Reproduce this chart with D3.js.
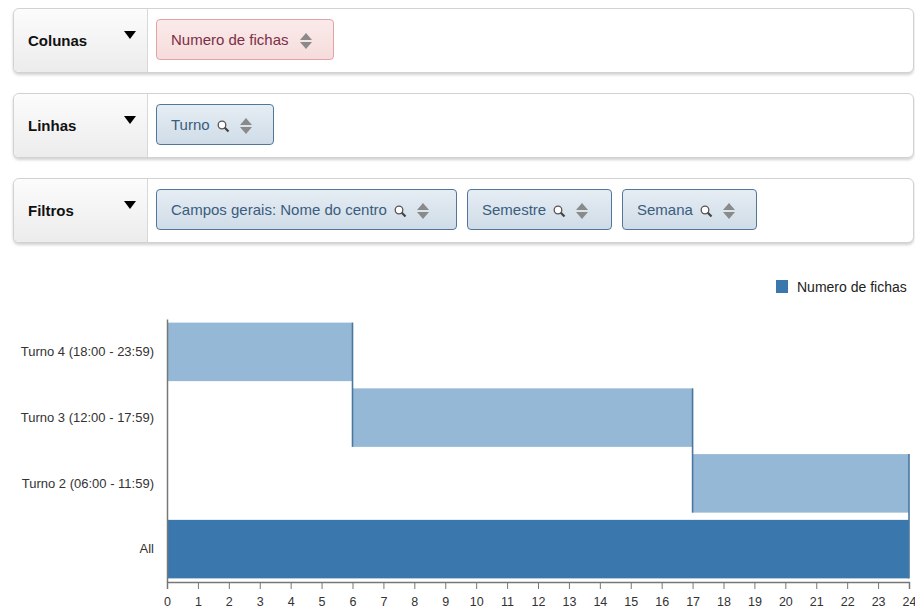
<!DOCTYPE html>
<html><head><meta charset="utf-8">
<script src="https://cdn.jsdelivr.net/npm/d3@7"></script>
<style>
body{margin:0;background:#fff;font-family:"Liberation Sans",Arial,Helvetica,sans-serif;}
#wrap{position:relative;width:915px;height:615px;overflow:hidden;}
.panel{position:absolute;left:13px;width:899px;height:63px;border:1px solid #d2d2d2;border-radius:6px;box-shadow:0 2px 3px rgba(0,0,0,0.18);background:#fff;}
.lcell{position:absolute;left:0;top:0;width:133px;height:63px;border-right:1px solid #d8d8d8;border-radius:6px 0 0 6px;background:linear-gradient(#fcfcfc,#ececec);}
.lbl{position:absolute;left:14px;top:23px;font-weight:bold;font-size:15px;color:#111;}
.tri{position:absolute;left:110px;top:22px;width:0;height:0;border-left:6px solid transparent;border-right:6px solid transparent;border-top:8px solid #000;}
.pill{position:absolute;height:41px;border-radius:4px;font-size:15px;line-height:39px;padding-left:14px;box-sizing:border-box;white-space:nowrap;}
.pink{border:1px solid #e3a3a6;background:linear-gradient(#fbeaea,#f6dcdc);color:#7b2f47;}
.blue{border:1px solid #52769b;background:linear-gradient(#e6edf4,#cfdce7);color:#3a5c7e;}
.ico{display:inline-block;vertical-align:middle;margin-left:6px;}
</style></head>
<body><div id="wrap"></div>
<script>
// ---- data ----
const categories = ["Turno 4 (18:00 - 23:59)", "Turno 3 (12:00 - 17:59)", "Turno 2 (06:00 - 11:59)", "All"];
const values = [6, 11, 7, 24];
const isTotal = [false, false, false, true];
const xTicks = [0,1,2,3,4,5,6,7,8,9,10,11,12,13,14,15,16,17,18,19,20,21,22,23,24];
const seriesName = "Numero de fichas";
const panelLabels = ["Colunas", "Linhas", "Filtros"];
const panelPills = [
  [{t:"Numero de fichas", kind:"pink", search:false}],
  [{t:"Turno", kind:"blue", search:true}],
  [{t:"Campos gerais: Nome do centro", kind:"blue", search:true},
   {t:"Semestre", kind:"blue", search:true},
   {t:"Semana", kind:"blue", search:true}]
];

const wrap = d3.select("#wrap");

// ---- UI panels ----
const panelTops = [8, 93, 178];
const pillWidths = [[178],[118],[301,145,135]];
const pillLefts = [[156],[156],[156,467,622]];
panelLabels.forEach((lab, i) => {
  const p = wrap.append("div").attr("class","panel").style("top", panelTops[i]+"px");
  const l = p.append("div").attr("class","lcell");
  l.append("div").attr("class","lbl").text(lab);
  l.append("div").attr("class","tri");
  panelPills[i].forEach((pl, j) => {
    const d = wrap.append("div").attr("class","pill "+pl.kind)
      .style("left", pillLefts[i][j]+"px")
      .style("top", (panelTops[i]+11)+"px")
      .style("width", pillWidths[i][j]+"px");
    d.append("span").text(pl.t);
    if (pl.search) {
      const s = d.append("svg").attr("class","ico").attr("width",13).attr("height",13).style("margin-left","7px");
      s.append("circle").attr("cx",5).attr("cy",5).attr("r",3.8).attr("fill","#fff").attr("stroke","#555").attr("stroke-width",1.3);
      s.append("line").attr("x1",7.8).attr("y1",7.8).attr("x2",11.5).attr("y2",11.5).attr("stroke","#444").attr("stroke-width",2.2);
    }
    const a = d.append("svg").attr("class","ico").attr("width",14).attr("height",18).style("margin-left", pl.search? "9px":"10px");
    a.append("path").attr("d","M1,8 L7,1 L13,8 Z").attr("fill","#8a8a8a");
    a.append("path").attr("d","M1,10 L7,17 L13,10 Z").attr("fill","#8a8a8a");
  });
});

// ---- chart ----
const svg = wrap.append("svg").attr("width",915).attr("height",615)
  .style("position","absolute").style("left",0).style("top",0).style("pointer-events","none");

const x = d3.scaleLinear().domain([0, 24]).range([167, 909]);
const y = d3.scaleBand().domain(categories).range([319, 582]).paddingInner(0.11).paddingOuter(0.055);

let cum = 0;
const bars = categories.map((c, i) => {
  let s, e;
  if (isTotal[i]) { s = 0; e = values[i]; }
  else { s = cum; e = cum + values[i]; cum = e; }
  return {c, s, e, total: isTotal[i]};
});

svg.selectAll("rect.bar").data(bars).enter().append("rect")
  .attr("class","bar")
  .attr("x", d => x(d.s)).attr("width", d => x(d.e) - x(d.s))
  .attr("y", d => y(d.c)).attr("height", y.bandwidth())
  .attr("fill", d => d.total ? "#3a77ad" : "#95b8d6");

// connectors
const conns = bars.slice(0, -1).map((d, i) => ({xv: d.e, y1: y(d.c), y2: y(bars[i+1].c) + y.bandwidth()}));
svg.selectAll("line.conn").data(conns).enter().append("line")
  .attr("x1", d => x(d.xv)).attr("x2", d => x(d.xv))
  .attr("y1", d => d.y1).attr("y2", d => d.y2)
  .attr("stroke", "#4a76a0").attr("stroke-width", 1.6);

// y axis
const yAxis = svg.append("g").attr("transform","translate(167,0)")
  .call(d3.axisLeft(y).tickSize(0).tickPadding(13));
yAxis.select(".domain").attr("stroke","#777").attr("stroke-width",1.5);
yAxis.selectAll("text").attr("font-size","13px").attr("fill","#333").attr("font-family","Liberation Sans, Arial, sans-serif");

// x axis
const xAxis = svg.append("g").attr("transform","translate(0,582)")
  .call(d3.axisBottom(x).tickValues(xTicks).tickFormat(d3.format("d")).tickSizeOuter(0).tickSize(7).tickPadding(8));
xAxis.select(".domain").attr("stroke","#777").attr("stroke-width",1.5);
xAxis.selectAll(".tick line").attr("stroke","#777");
xAxis.selectAll("text").attr("font-size","12.5px").attr("fill","#333").attr("font-family","Liberation Sans, Arial, sans-serif");

// legend
const lg = svg.append("g").attr("transform","translate(776,280)");
lg.append("rect").attr("width",12).attr("height",13).attr("fill","#3a77ad");
lg.append("text").attr("x",21).attr("y",11.5).attr("font-size","14px").attr("fill","#222").attr("font-family","Liberation Sans, Arial, sans-serif").text(seriesName);
</script></body></html>
